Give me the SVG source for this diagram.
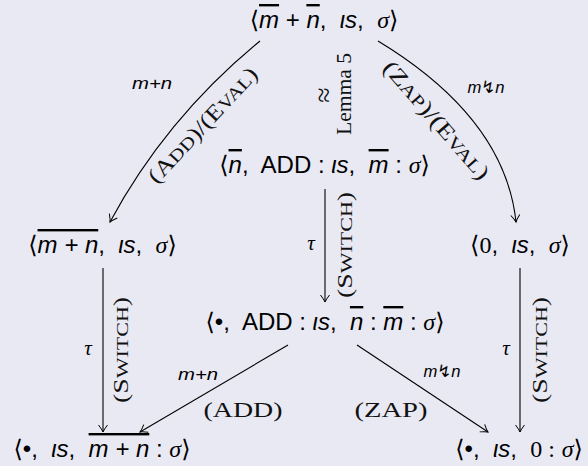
<svg xmlns="http://www.w3.org/2000/svg" width="588" height="466" viewBox="0 0 588 466">
<defs>
<marker id="ah" markerWidth="12" markerHeight="12" viewBox="-10 -6 12 12" refX="0" refY="0" orient="auto" markerUnits="userSpaceOnUse">
<path d="M-7,-4.5 Q-2.5,-1 0,0 Q-2.5,1 -7,4.5" fill="none" stroke="#000" stroke-width="1"/>
</marker>
<style>
.node{font-family:"Liberation Sans","DejaVu Sans",sans-serif;font-size:24px;fill:#000;white-space:pre}
.it{font-style:italic}
.sr{font-family:"Liberation Serif","DejaVu Serif","DejaVu Sans",serif}
.ov{text-decoration:overline}
.lbl{font-family:"Liberation Sans","DejaVu Sans",sans-serif;font-style:italic;font-size:17px}
.tau{font-family:"Liberation Serif","DejaVu Serif",serif;font-style:italic;font-size:21px}
.rule{font-family:"Liberation Serif","DejaVu Serif",serif;font-size:22px;fill:#111}
.sc{font-size:17.5px}
.conn{fill:none;stroke:#000;stroke-width:1.1}
</style>
</defs>
<rect width="588" height="466" fill="#e9e9f3"/>
<g id="connectors">
<path class="conn" d="M260,41 Q166,118 110,222" marker-end="url(#ah)"/>
<path class="conn" d="M378,41 Q505,118 516,222" marker-end="url(#ah)"/>
<path class="conn" d="M325,189 L325,302" marker-end="url(#ah)"/>
<path class="conn" d="M103,268 L103,432" marker-end="url(#ah)"/>
<path class="conn" d="M520,268 L520,432" marker-end="url(#ah)"/>
<path class="conn" d="M288,345 L140,432" marker-end="url(#ah)"/>
<path class="conn" d="M357,345 L488,432" marker-end="url(#ah)"/>
</g>
<g id="labels">
<text class="lbl" x="152" y="89" text-anchor="middle" textLength="40" lengthAdjust="spacingAndGlyphs">m+n</text>
<text class="lbl" x="486" y="93" text-anchor="middle" textLength="37" lengthAdjust="spacingAndGlyphs">m↯n</text>
<text class="rule" transform="translate(208,130) rotate(-47)" text-anchor="middle" textLength="150" lengthAdjust="spacingAndGlyphs">(A<tspan class="sc">DD</tspan>)/(E<tspan class="sc">VAL</tspan>)</text>
<text class="rule" transform="translate(431,125) rotate(49)" text-anchor="middle" textLength="150" lengthAdjust="spacingAndGlyphs">(Z<tspan class="sc">AP</tspan>)/(E<tspan class="sc">VAL</tspan>)</text>
<text class="rule" style="font-size:28px" transform="translate(333,95) rotate(-90)" text-anchor="middle">≈</text>
<text class="rule" transform="translate(351,94) rotate(-90)" text-anchor="middle" textLength="82" lengthAdjust="spacingAndGlyphs">Lemma 5</text>
<text class="tau" x="311" y="250" text-anchor="middle">τ</text>
<text class="rule" transform="translate(352,245) rotate(-90)" text-anchor="middle" textLength="106" lengthAdjust="spacingAndGlyphs">(S<tspan class="sc">WITCH</tspan>)</text>
<text class="tau" x="88" y="355" text-anchor="middle">τ</text>
<text class="rule" transform="translate(128,350) rotate(-90)" text-anchor="middle" textLength="106" lengthAdjust="spacingAndGlyphs">(S<tspan class="sc">WITCH</tspan>)</text>
<text class="tau" x="506" y="355" text-anchor="middle">τ</text>
<text class="rule" transform="translate(547,350) rotate(-90)" text-anchor="middle" textLength="106" lengthAdjust="spacingAndGlyphs">(S<tspan class="sc">WITCH</tspan>)</text>
<text class="lbl" x="198" y="380" text-anchor="middle" textLength="40" lengthAdjust="spacingAndGlyphs">m+n</text>
<text class="lbl" x="442" y="377" text-anchor="middle" textLength="37" lengthAdjust="spacingAndGlyphs">m↯n</text>
<text class="rule" x="243" y="417" text-anchor="middle" textLength="79" lengthAdjust="spacingAndGlyphs">(ADD)</text>
<text class="rule" x="391" y="417" text-anchor="middle" textLength="73" lengthAdjust="spacingAndGlyphs">(ZAP)</text>
</g>
<g id="n-top">
<text class="node" x="324" y="28" text-anchor="middle"><tspan class="sr">⟨</tspan><tspan class="it ov">m</tspan> + <tspan class="it ov">n</tspan>,  <tspan class="it">ιs</tspan>,  <tspan class="sr it">σ</tspan><tspan class="sr">⟩</tspan></text>
</g>
<g id="n-mid">
<text class="node" x="324.5" y="173" text-anchor="middle"><tspan class="sr">⟨</tspan><tspan class="it ov">n</tspan>,  ADD : <tspan class="it">ιs</tspan>,  <tspan class="it ov">m</tspan> : <tspan class="sr it">σ</tspan><tspan class="sr">⟩</tspan></text>
</g>
<g id="n-left">
<text class="node" x="102.5" y="253" text-anchor="middle"><tspan class="sr">⟨</tspan><tspan class="it ov">m + n</tspan>,  <tspan class="it">ιs</tspan>,  <tspan class="sr it">σ</tspan><tspan class="sr">⟩</tspan></text>
</g>
<g id="n-right">
<text class="node" x="520" y="253" text-anchor="middle"><tspan class="sr">⟨0</tspan>,  <tspan class="it">ιs</tspan>,  <tspan class="sr it">σ</tspan><tspan class="sr">⟩</tspan></text>
</g>
<g id="n-mid2">
<text class="node" x="325" y="330" text-anchor="middle"><tspan class="sr">⟨</tspan>•,  ADD : <tspan class="it">ιs</tspan>,  <tspan class="it ov">n</tspan> : <tspan class="it ov">m</tspan> : <tspan class="sr it">σ</tspan><tspan class="sr">⟩</tspan></text>
</g>
<g id="n-botleft">
<text class="node" x="102" y="457" text-anchor="middle"><tspan class="sr">⟨</tspan>•,  <tspan class="it">ιs</tspan>,  <tspan class="it ov">m + n</tspan> : <tspan class="sr it">σ</tspan><tspan class="sr">⟩</tspan></text>
</g>
<g id="n-botright">
<text class="node" x="519" y="457" text-anchor="middle"><tspan class="sr">⟨</tspan>•,  <tspan class="it">ιs</tspan>,  <tspan class="sr">0 :</tspan> <tspan class="sr it">σ</tspan><tspan class="sr">⟩</tspan></text>
</g>
</svg>
